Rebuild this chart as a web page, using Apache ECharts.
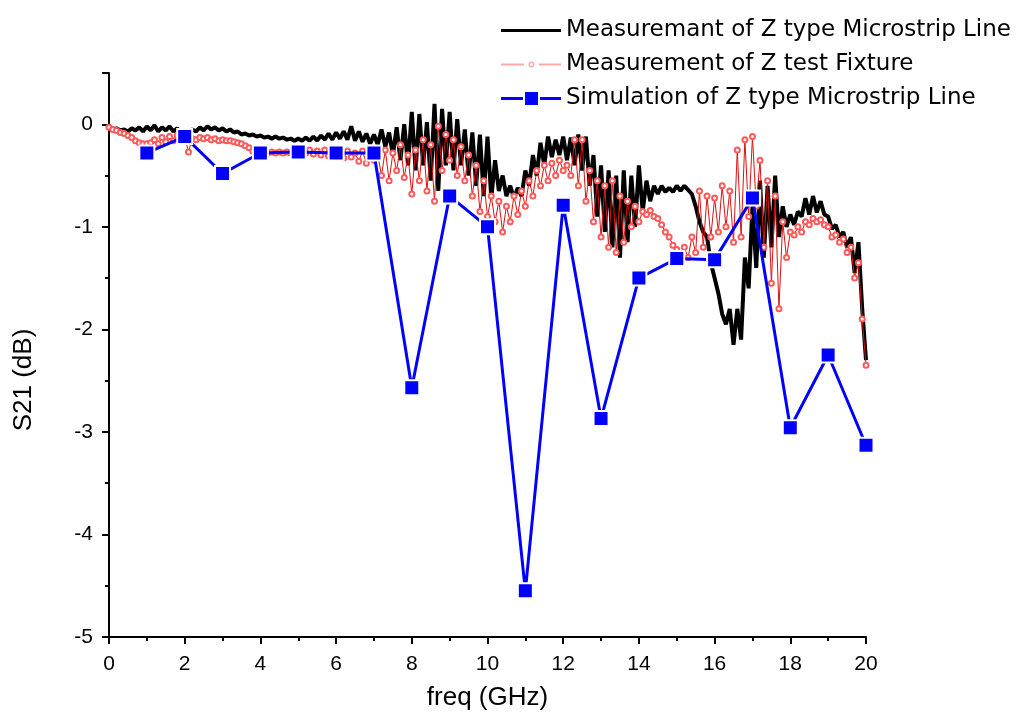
<!DOCTYPE html>
<html><head><meta charset="utf-8">
<script src="https://cdn.jsdelivr.net/npm/echarts@6/dist/echarts.min.js"></script>
<style>html,body{margin:0;padding:0;background:#fff}#c{width:1021px;height:718px}</style>
</head><body><div id="c"></div>
<script>
// frequency grid step of the measured traces (GHz), 0 .. 20
const freqStep = 0.1;

// Measurement of Z type Microstrip Line (dB), one value per 0.1 GHz
const lineMeasured = [
 -0.03,-0.05,-0.04,-0.06,-0.05,-0.07,-0.04,-0.06,-0.03,-0.07,
 -0.02,-0.06,-0.01,-0.07,-0.03,-0.06,-0.02,-0.07,-0.04,-0.08,
 -0.06,-0.08,-0.05,-0.07,-0.03,-0.06,-0.02,-0.05,-0.03,-0.06,
 -0.04,-0.07,-0.05,-0.08,-0.07,-0.10,-0.09,-0.11,-0.10,-0.12,
 -0.11,-0.13,-0.12,-0.14,-0.12,-0.14,-0.13,-0.15,-0.14,-0.16,
 -0.14,-0.16,-0.13,-0.16,-0.12,-0.16,-0.11,-0.15,-0.09,-0.15,
 -0.08,-0.14,-0.07,-0.15,-0.02,-0.16,-0.07,-0.17,-0.09,-0.19,
 -0.10,-0.20,-0.05,-0.22,-0.08,-0.30,-0.03,-0.35,0.00,-0.40,
 0.12,-0.45,0.10,-0.40,0.02,-0.55,0.20,-0.65,0.15,-0.40,
 0.12,-0.45,0.05,-0.40,-0.05,-0.50,-0.08,-0.60,-0.10,-0.70,
 -0.12,-0.72,-0.35,-0.65,-0.50,-0.70,-0.60,-0.72,-0.62,-0.70,
 -0.45,-0.60,-0.30,-0.50,-0.18,-0.40,-0.12,-0.32,-0.15,-0.30,
 -0.12,-0.35,-0.13,-0.40,-0.10,-0.45,-0.12,-0.60,-0.30,-0.90,
 -0.40,-1.05,-0.45,-1.20,-0.50,-1.30,-0.45,-1.15,-0.50,-1.00,
 -0.40,-0.85,-0.55,-0.75,-0.60,-0.68,-0.60,-0.66,-0.62,-0.66,
 -0.60,-0.65,-0.60,-0.64,-0.68,-0.80,-0.95,-1.05,-1.10,-1.35,
 -1.50,-1.65,-1.85,-1.95,-1.80,-2.15,-1.80,-2.10,-1.30,-1.60,
 -0.80,-1.40,-0.55,-1.30,-0.60,-1.20,-0.50,-1.10,-0.80,-1.00,
 -0.88,-0.98,-0.85,-0.90,-0.72,-0.88,-0.70,-0.86,-0.75,-0.88,
 -0.90,-1.02,-0.98,-1.10,-1.05,-1.20,-1.10,-1.45,-1.15,-1.80,
 -2.30
];

// Measurement of Z test Fixture (dB), one value per 0.1 GHz
const fixtureMeasured = [
 -0.03,-0.05,-0.06,-0.08,-0.09,-0.11,-0.13,-0.16,-0.18,-0.19,
 -0.19,-0.18,-0.15,-0.19,-0.13,-0.17,-0.12,-0.16,-0.11,-0.15,
 -0.12,-0.27,-0.14,-0.15,-0.13,-0.14,-0.13,-0.15,-0.14,-0.16,
 -0.15,-0.16,-0.16,-0.17,-0.18,-0.19,-0.21,-0.23,-0.26,-0.27,
 -0.28,-0.27,-0.28,-0.27,-0.28,-0.27,-0.28,-0.27,-0.28,-0.27,
 -0.27,-0.25,-0.28,-0.25,-0.29,-0.26,-0.30,-0.25,-0.31,-0.26,
 -0.30,-0.27,-0.33,-0.26,-0.32,-0.28,-0.36,-0.26,-0.38,-0.28,
 -0.35,-0.30,-0.50,-0.25,-0.55,-0.28,-0.45,-0.20,-0.52,-0.30,
 -0.68,-0.25,-0.55,-0.15,-0.65,-0.20,-0.75,-0.02,-0.45,-0.10,
 -0.35,-0.15,-0.50,-0.22,-0.55,-0.30,-0.70,-0.40,-0.85,-0.55,
 -0.90,-0.70,-0.95,-0.75,-1.05,-0.80,-0.95,-0.70,-0.88,-0.65,
 -0.80,-0.55,-0.70,-0.45,-0.60,-0.40,-0.55,-0.38,-0.50,-0.35,
 -0.45,-0.40,-0.50,-0.15,-0.60,-0.15,-0.75,-0.45,-0.95,-0.55,
 -1.10,-0.60,-1.20,-0.55,-1.25,-0.70,-1.15,-0.75,-1.00,-0.80,
 -0.95,-0.85,-0.88,-0.84,-0.90,-0.92,-0.98,-1.05,-1.10,-1.18,
 -1.22,-1.28,-1.20,-1.30,-1.10,-1.25,-0.65,-1.20,-0.70,-1.10,
 -0.72,-1.05,-0.60,-1.00,-0.65,-1.15,-0.25,-1.10,-0.15,-0.90,
 -0.12,-0.80,-0.35,-1.20,-0.55,-1.55,-0.70,-1.80,-0.95,-1.30,
 -1.05,-1.08,-1.00,-1.05,-0.95,-0.98,-0.92,-0.95,-0.93,-0.98,
 -1.00,-1.10,-1.08,-1.15,-1.12,-1.25,-1.20,-1.50,-1.35,-1.90,
 -2.35
];

// Simulation of Z type Microstrip Line
const simFreq = [1,2,3,4,5,6,7,8,9,10,11,12,13,14,15,16,17,18,19,20];
const simValues = [-0.28,-0.12,-0.48,-0.28,-0.27,-0.28,-0.28,-2.57,-0.70,-1.00,
                   -4.55,-0.79,-2.87,-1.50,-1.31,-1.32,-0.72,-2.96,-2.25,-3.13];

const seriesNames = ['Measuremant of Z type Microstrip Line','Measurement of Z test Fixture','Simulation of Z type Microstrip Line'];
const xLabel = 'freq (GHz)';
const yLabel = 'S21 (dB)';

const toPairs = arr => arr.map((v, i) => [Math.round(i * freqStep * 10) / 10, v]);
const FONT = 'Arial, "Liberation Sans", sans-serif';
const LEGEND_FONT = '"DejaVu Sans", Arial, sans-serif';

// legend glyphs: solid line / dashed line with ring / line with square
const iconLine = 'path://M0,0 H60 V3 H0 Z';
const iconRing = 'path://M0,6 H23 V8 H0 Z M27.5,7 a3,3 0 1,0 6,0 a3,3 0 1,0 -6,0 Z M29,7 a1.5,1.5 0 1,1 3,0 a1.5,1.5 0 1,1 -3,0 Z M38,6 H60 V8 H38 Z';
const iconSquare = 'path://M0,5 H22 V8 H0 Z M24,0 H37 V13 H24 Z M39,5 H60 V8 H39 Z';

const chart = echarts.init(document.getElementById('c'), null, {renderer: 'canvas'});
const axisCommon = {
  axisLine: {show: true, onZero: false, lineStyle: {color: '#000', width: 2}},
  axisTick: {show: true, inside: false, length: 7, lineStyle: {color: '#000', width: 2}},
  minorTick: {show: true, splitNumber: 2, length: 4, lineStyle: {color: '#000', width: 2}},
  splitLine: {show: false},
};
chart.setOption({
  animation: false,
  backgroundColor: '#fff',
  grid: {left: 109, right: 155, top: 73, bottom: 81, containLabel: false},
  legend: {
    orient: 'vertical', left: 496, top: 14,
    itemWidth: 60, itemHeight: 16, itemGap: 11,
    textStyle: {fontSize: 23, color: '#000', fontFamily: LEGEND_FONT},
    data: [
      {name: seriesNames[0], icon: iconLine, itemStyle: {color: '#000', borderWidth: 0}},
      {name: seriesNames[1], icon: iconRing, itemStyle: {color: '#ffaaaa', borderWidth: 0}},
      {name: seriesNames[2], icon: iconSquare, itemStyle: {color: '#0000ff', borderWidth: 0}}
    ]
  },
  xAxis: Object.assign({}, axisCommon, {
    type: 'value', min: 0, max: 20, interval: 2,
    name: xLabel, nameLocation: 'middle', nameGap: 48,
    nameTextStyle: {fontSize: 26, color: '#000', fontFamily: FONT},
    axisLabel: {fontSize: 21, color: '#000', margin: 17, fontFamily: FONT}
  }),
  yAxis: Object.assign({}, axisCommon, {
    type: 'value', min: -5, max: 0.5, interval: 1,
    name: yLabel, nameLocation: 'middle', nameGap: 72, nameRotate: 90,
    nameTextStyle: {fontSize: 26, color: '#000', fontFamily: FONT, padding: [0, 50, 0, 0]},
    axisLabel: {fontSize: 21, color: '#000', margin: 16, fontFamily: FONT,
      formatter: v => Number.isInteger(v) ? String(v) : ''}
  }),
  series: [
    {
      name: seriesNames[0], type: 'line', data: toPairs(lineMeasured),
      symbol: 'none', z: 1,
      lineStyle: {color: '#000', width: 4}, itemStyle: {color: '#000'}
    },
    {
      name: seriesNames[1], type: 'line', data: toPairs(fixtureMeasured),
      symbol: 'emptyCircle', symbolSize: 5, showAllSymbol: true, z: 2,
      lineStyle: {color: '#dd1111', width: 1},
      itemStyle: {color: '#ff5a5a', borderColor: '#ff5a5a', borderWidth: 1}
    },
    {
      name: seriesNames[2], type: 'line', data: simFreq.map((f, i) => [f, simValues[i]]),
      symbol: 'rect', symbolSize: 15, z: 3,
      lineStyle: {color: '#0000ff', width: 3},
      itemStyle: {color: '#0000ff', borderColor: '#ffffff', borderWidth: 2}
    }
  ]
});
</script>
</body></html>
